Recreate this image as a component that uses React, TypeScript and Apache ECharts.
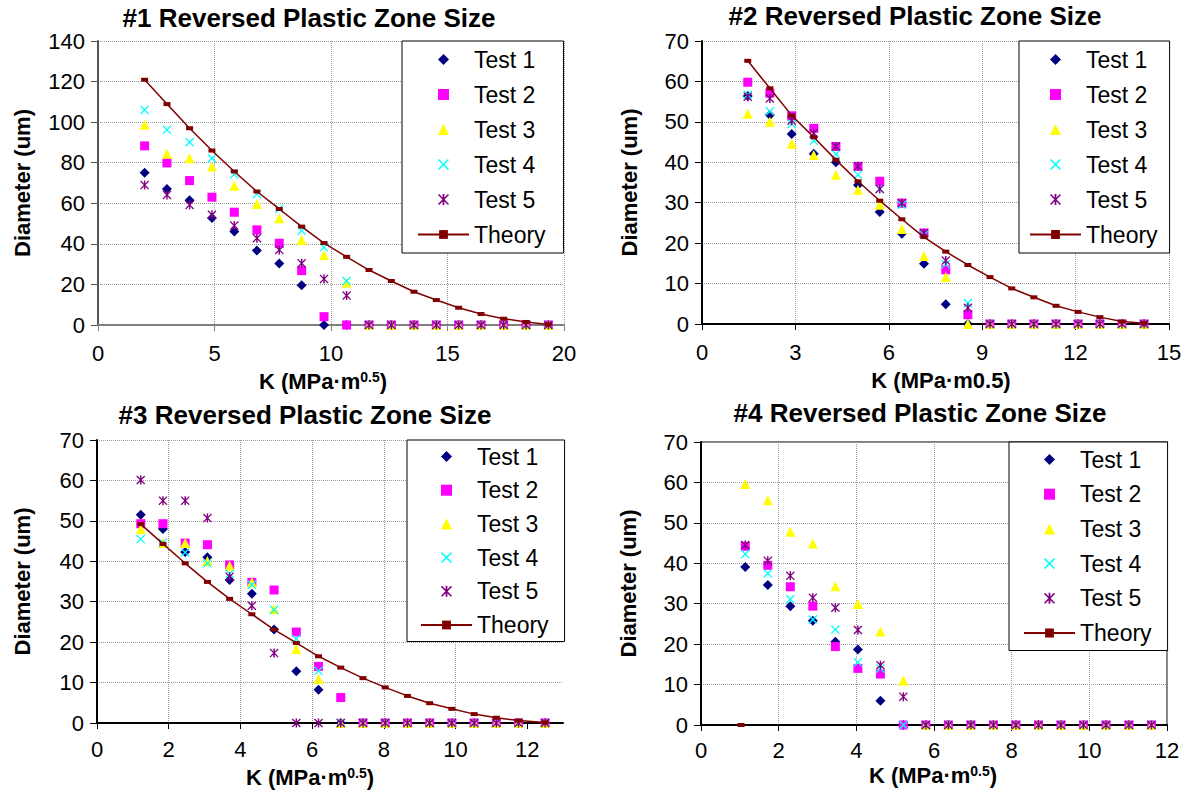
import React, { useEffect, useRef } from 'react';
import * as echarts from 'echarts';

const FONT = "'Liberation Sans', Arial, Helvetica, sans-serif";

// ---------- Chart #1 ----------
const k1 = [2.0, 2.96, 3.93, 4.89, 5.85, 6.82, 7.78, 8.74, 9.7, 10.67, 11.63, 12.59, 13.56, 14.52, 15.48, 16.44, 17.41, 18.37, 19.33];
const theory1 = [120.9, 108.9, 97.0, 86.0, 75.7, 65.8, 57.2, 48.5, 40.4, 33.6, 27.1, 21.7, 16.4, 12.3, 8.5, 5.4, 3.1, 1.5, 0.3];
const c1test1 = [75.0, 67.0, 61.5, 52.8, 46.1, 36.7, 30.3, 19.6, 0, 0, 0, 0, 0, 0, 0, 0, 0, 0, 0];
const c1test2 = [88.3, 79.9, 71.2, 63.0, 55.6, 46.9, 40.3, 26.8, 4.1, 0, 0, 0, 0, 0, 0, 0, 0, 0, 0];
const c1test3 = [98.7, 84.4, 82.2, 78.1, 68.6, 59.7, 52.6, 41.9, 34.5, 20.9, 0, 0, 0, 0, 0, 0, 0, 0, 0];
const c1test4 = [106.0, 96.2, 90.1, 82.2, 74.3, 64.5, 57.2, 46.5, 38.3, 21.7, 0, 0, 0, 0, 0, 0, 0, 0, 0];
const c1test5 = [69.0, 64.1, 59.2, 54.3, 49.0, 42.8, 37.0, 30.4, 22.7, 14.5, 0, 0, 0, 0, 0, 0, 0, 0, 0];

// ---------- Chart #2 ----------
const k2 = [1.47, 2.18, 2.88, 3.59, 4.3, 5.01, 5.71, 6.42, 7.13, 7.83, 8.54, 9.25, 9.95, 10.66, 11.37, 12.08, 12.78, 13.49, 14.2];
const theory2 = [65.1, 58.3, 51.6, 46.2, 40.6, 35.3, 30.5, 25.9, 21.5, 17.9, 14.6, 11.6, 8.8, 6.6, 4.5, 3.0, 1.7, 0.6, 0.2];
const c2test1 = [56.4, 51.7, 47.0, 42.1, 40.0, 34.4, 27.7, 22.3, 14.9, 4.9, 0, 0, 0, 0, 0, 0, 0, 0, 0];
const c2test2 = [59.8, 57.1, 51.5, 48.4, 43.9, 39.0, 35.3, 29.9, 22.5, 13.4, 2.3, 0, 0, 0, 0, 0, 0, 0, 0];
const c2test3 = [52.0, 50.0, 44.6, 41.8, 36.9, 33.2, 29.5, 23.5, 16.8, 11.6, 0, 0, 0, 0, 0, 0, 0, 0, 0];
const c2test4 = [56.7, 52.6, 49.5, 45.3, 42.0, 36.9, 33.4, 29.5, 22.1, 14.8, 5.2, 0, 0, 0, 0, 0, 0, 0, 0];
const c2test5 = [56.2, 55.8, 50.3, 47.2, 43.9, 39.0, 33.4, 29.9, 22.5, 15.7, 4.0, 0, 0, 0, 0, 0, 0, 0, 0];

// ---------- Chart #3 ----------
const k3 = [1.22, 1.84, 2.46, 3.08, 3.7, 4.32, 4.94, 5.56, 6.18, 6.8, 7.42, 8.04, 8.66, 9.28, 9.9, 10.52, 11.14, 11.76, 12.5];
const theory3 = [49.2, 44.3, 39.5, 34.9, 30.7, 26.9, 23.1, 19.8, 16.5, 13.7, 11.1, 8.8, 6.7, 4.9, 3.5, 2.2, 1.3, 0.6, 0.15];
const c3test1 = [51.5, 48.0, 42.3, 41.0, 35.4, 32.0, 23.1, 12.8, 8.2, 0, 0, 0, 0, 0, 0, 0, 0, 0, 0];
const c3test2 = [49.3, 49.3, 44.5, 44.1, 39.1, 34.8, 32.9, 22.5, 14.0, 6.3, 0, 0, 0, 0, 0, 0, 0, 0, 0];
const c3test3 = [48.0, 44.5, 44.5, 40.1, 38.9, 34.8, 28.2, 18.3, 10.9, 0, 0, 0, 0, 0, 0, 0, 0, 0, 0];
const c3test4 = [45.5, 44.6, 42.2, 39.5, 36.9, 34.2, 28.0, 20.8, 12.9, 0, 0, 0, 0, 0, 0, 0, 0, 0, 0];
const c3test5 = [60.1, 55.0, 55.0, 50.7, 36.2, 29.0, 17.3, 0, 0, 0, 0, 0, 0, 0, 0, 0, 0, 0, 0];

// ---------- Chart #4 ----------
const k4 = [1.14, 1.72, 2.3, 2.88, 3.46, 4.04, 4.62, 5.21, 5.79, 6.37, 6.95, 7.53, 8.11, 8.69, 9.27, 9.85, 10.43, 11.02, 11.6];
const k4theory = [1.03];
const theory4 = [0];
const c4test1 = [39.1, 34.6, 29.4, 25.8, 20.6, 18.7, 6.0, 0, 0, 0, 0, 0, 0, 0, 0, 0, 0, 0, 0];
const c4test2 = [44.2, 39.5, 34.2, 29.4, 19.4, 14.0, 12.6, 0, 0, 0, 0, 0, 0, 0, 0, 0, 0, 0, 0];
const c4test3 = [59.6, 55.6, 47.8, 44.9, 34.3, 29.9, 23.1, 11.0, 0, 0, 0, 0, 0, 0, 0, 0, 0, 0, 0];
const c4test4 = [42.3, 37.5, 31.1, 26.1, 23.6, 15.5, 14.0, 0, 0, 0, 0, 0, 0, 0, 0, 0, 0, 0, 0];
const c4test5 = [44.5, 40.6, 36.9, 31.5, 29.0, 23.5, 14.8, 7.0, 0, 0, 0, 0, 0, 0, 0, 0, 0, 0, 0];

const legendNames = ['Test 1', 'Test 2', 'Test 3', 'Test 4', 'Test 5', 'Theory'];
const titles = ['#1 Reversed Plastic Zone Size', '#2 Reversed Plastic Zone Size', '#3 Reversed Plastic Zone Size', '#4 Reversed Plastic Zone Size'];

const DIAMOND_SYM = 'path://M5,0 L10,5 L5,10 L0,5 Z';
const SQUARE_SYM = 'path://M0,0 L10,0 L10,10 L0,10 Z';
const TRIANGLE_SYM = 'path://M5,0 L10,10 L0,10 Z';
const X_SYM = 'path://M0,1 L1,0 L5,4 L9,0 L10,1 L6,5 L10,9 L9,10 L5,6 L1,10 L0,9 L4,5 Z';
const STAR_SYM = 'path://M0,1 L1,0 L5,4 L9,0 L10,1 L6,5 L10,9 L9,10 L5,6 L1,10 L0,9 L4,5 Z M4.2,0 L5.8,0 L5.8,10 L4.2,10 Z';

const testStyles = [
  { symbol: DIAMOND_SYM, size: 10, color: '#000080' },
  { symbol: SQUARE_SYM, size: 9, color: '#FF00FF' },
  { symbol: TRIANGLE_SYM, size: 10, color: '#FFFF00' },
  { symbol: X_SYM, size: 9, color: '#00FFFF' },
  { symbol: STAR_SYM, size: 9, color: '#800080' },
];

function pairs(xs: number[], ys: number[]) {
  return ys.map((y, i) => [xs[i], y]);
}

const charts = [
  { k: k1, kt: k1, theory: theory1, tests: [c1test1, c1test2, c1test3, c1test4, c1test5] },
  { k: k2, kt: k2, theory: theory2, tests: [c2test1, c2test2, c2test3, c2test4, c2test5] },
  { k: k3, kt: k3, theory: theory3, tests: [c3test1, c3test2, c3test3, c3test4, c3test5] },
  { k: k4, kt: k4theory, theory: theory4, tests: [c4test1, c4test2, c4test3, c4test4, c4test5] },
];

function buildOption() {
  const series: any[] = [];
  charts.forEach((c, gi) => {
    c.tests.forEach((t, ti) => {
      const st = testStyles[ti];
      series.push({
        type: 'scatter',
        name: legendNames[ti],
        xAxisIndex: gi,
        yAxisIndex: gi,
        symbol: st.symbol,
        symbolSize: st.size,
        symbolKeepAspect: true,
        itemStyle: { color: st.color, opacity: 1 },
        clip: false,
        data: pairs(c.k, t),
      });
    });
    series.push({
      type: 'line',
      name: 'Theory',
      xAxisIndex: gi,
      yAxisIndex: gi,
      symbol: 'rect',
      symbolSize: [7, 4],
      showSymbol: true,
      clip: false,
      lineStyle: { color: '#800000', width: 1.5 },
      itemStyle: { color: '#800000' },
      data: pairs(c.kt, c.theory),
    });
  });

  const grid = [
    { left: 98, top: 41, width: 466, height: 284 },
    { left: 702, top: 41, width: 467, height: 283 },
    { left: 97, top: 440, width: 466, height: 283 },
    { left: 701, top: 442, width: 466, height: 283, show: true, borderColor: '#808080', borderWidth: 2, backgroundColor: 'transparent' },
  ];

  const splitLine = { show: true, lineStyle: { color: '#9a9a9a', type: 'dotted', width: 1 } };
  const labelStyle = { fontSize: 22, color: '#000', fontFamily: FONT };

  const xCfg = [
    { max: 20, interval: 5, color: '#808080', margin: 17 },
    { max: 15, interval: 3, color: '#000', margin: 17 },
    { max: 13, interval: 2, color: '#000', margin: 15 },
    { max: 12, interval: 2, color: '#000', margin: 14 },
  ];
  const xAxis = xCfg.map((c, gi) => {
    const ax: any = {
      type: 'value',
      gridIndex: gi,
      min: 0,
      max: c.max,
      interval: c.interval,
      axisLine: { show: true, onZero: false, lineStyle: { color: c.color, width: 2 } },
      axisTick: { show: true, inside: false, length: 6, lineStyle: { color: c.color, width: 1 } },
      axisLabel: {
        ...labelStyle,
        margin: c.margin,
        formatter: (v: number) => (v % c.interval === 0 ? String(v) : ''),
      },
      splitLine: { ...splitLine, showMaxLine: gi !== 2 },
    };
    if (gi === 2) {
      ax.axisTick.customValues = [0, 2, 4, 6, 8, 10, 12];
      ax.axisLabel.customValues = [0, 2, 4, 6, 8, 10, 12];
    }
    return ax;
  });

  const yCfg = [
    { max: 140, interval: 20, color: '#555', gap: 65 },
    { max: 70, interval: 10, color: '#000', gap: 62 },
    { max: 70, interval: 10, color: '#000', gap: 64 },
    { max: 70, interval: 10, color: '#000', gap: 62 },
  ];
  const yAxis = yCfg.map((c, gi) => ({
    type: 'value',
    gridIndex: gi,
    min: 0,
    max: c.max,
    interval: c.interval,
    name: 'Diameter (um)',
    nameLocation: 'middle',
    nameGap: c.gap,
    nameRotate: 90,
    nameTextStyle: { fontSize: 22, fontWeight: 'bold', color: '#000', fontFamily: FONT },
    axisLine: { show: true, onZero: false, lineStyle: { color: c.color, width: 2 } },
    axisTick: { show: true, inside: false, length: 7, lineStyle: { color: c.color, width: 1 } },
    axisLabel: { ...labelStyle, margin: 13 },
    splitLine,
  }));

  const legendPos = [
    { left: 402, top: 41, padding: [7, 18, 7, 15], itemGap: 12 },
    { left: 1019, top: 41, padding: [7, 12, 7, 10], itemGap: 12 },
    { left: 407, top: 440, padding: [5, 16, 5, 13], itemGap: 10.7 },
    { left: 1009, top: 442, padding: [6, 16, 6, 14], itemGap: 11.7 },
  ];
  const legend = legendPos.map((p) => ({
    orient: 'vertical',
    left: p.left,
    top: p.top,
    padding: p.padding,
    itemGap: p.itemGap,
    itemWidth: 51,
    itemHeight: 11,
    symbolKeepAspect: true,
    borderColor: '#000',
    borderWidth: 1,
    borderRadius: 0,
    backgroundColor: '#fff',
    selectedMode: false,
    textStyle: { fontSize: 23, fontFamily: FONT, color: '#000', lineHeight: 23 },
    data: legendNames,
  }));

  const titlePos = [
    { x: 309, y: 18 },
    { x: 915, y: 16 },
    { x: 305, y: 415 },
    { x: 920, y: 413 },
  ];
  const xNamePos = [
    { x: 323, y: 381, sup: true },
    { x: 941, y: 380, sup: false },
    { x: 310, y: 777, sup: true },
    { x: 933, y: 775, sup: true },
  ];

  const graphic: any[] = [];
  titlePos.forEach((p, i) => {
    graphic.push({
      type: 'text',
      x: p.x,
      y: p.y,
      z: 100,
      style: {
        text: titles[i],
        fontSize: 26,
        fontWeight: 'bold',
        fontFamily: FONT,
        fill: '#000',
        align: 'center',
        verticalAlign: 'middle',
      },
    });
  });
  xNamePos.forEach((p) => {
    graphic.push({
      type: 'text',
      x: p.x,
      y: p.y,
      z: 100,
      style: {
        text: p.sup ? 'K (MPa·m{sup|0.5})' : 'K (MPa·m0.5)',
        rich: {
          sup: { fontSize: 14, fontWeight: 'bold', fontFamily: FONT, fill: '#000', verticalAlign: 'top', lineHeight: 22 },
        },
        fontSize: 22,
        fontWeight: 'bold',
        fontFamily: FONT,
        fill: '#000',
        align: 'center',
        verticalAlign: 'middle',
      },
    });
  });

  return {
    animation: false,
    backgroundColor: '#fff',
    textStyle: { fontFamily: FONT },
    grid,
    xAxis,
    yAxis,
    legend,
    series,
    graphic,
  };
}

export default function App() {
  const ref = useRef<HTMLDivElement>(null);
  useEffect(() => {
    if (!ref.current) return;
    const chart = echarts.init(ref.current, null, { renderer: 'svg' });
    chart.setOption(buildOption() as any);
    return () => chart.dispose();
  }, []);
  return (
    <div
      ref={ref}
      style={{ position: 'absolute', left: 0, top: 0, width: 1188, height: 792, background: '#fff' }}
    />
  );
}
